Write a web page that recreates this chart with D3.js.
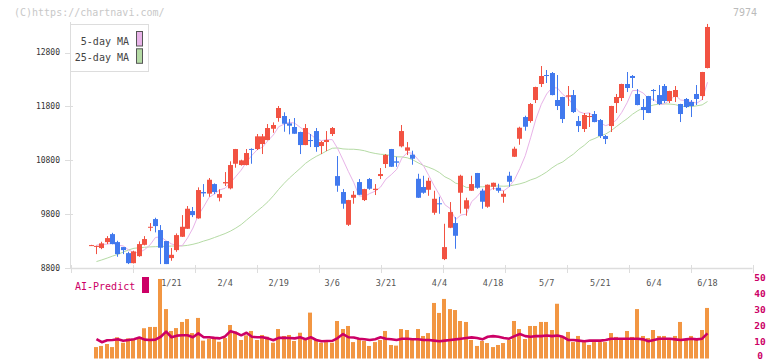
<!DOCTYPE html>
<html><head><meta charset="utf-8">
<script src="https://cdn.jsdelivr.net/npm/d3@7"></script>
<style>html,body{margin:0;padding:0;background:#fff;}svg{display:block;}</style>
</head><body>
<svg id="c" width="772" height="361"></svg>
<script>
// ---- data ----
const opens = [9215,9200,9170,9280,9429,9281,9188,9076,8890,9020,
 9230,9550,9708,9504,9300,8984,9132,9380,9528,9857,
 9721,10210,10180,10358,10104,10370,10278,10735,10711,10711,
 11010,11008,11101,11175,11385,11584,11621,11485,11417,11324,
 11082,11175,11342,11064,11138,11287,10506,10210,9602,10104,
 10395,10061,10451,10247,10507,10730,11008,10780,11058,10977,
 10903,10456,10303,10252,9825,10001,8965,9547,9634,10197,
 9900,10234,10563,10234,9937,10308,10290,10122,10512,10865,
 11199,11602,11528,11918,12215,12382,12419,11918,11974,11980,
 12010,11528,11380,11602,11658,11546,11249,11435,11862,11955,
 12215,12364,12030,11788,11992,12104,12010,12178,11900,11974,
 11844,11937,11881,12030,11992,12512];
const highs = [9230,9215,9287,9392,9453,9305,9190,9101,9120,9294,
 9392,9634,9733,9597,9300,9170,9442,9782,9950,9932,
 10297,10358,10470,10370,10260,10581,10780,11010,10810,11008,
 11021,11287,11287,11472,11503,11807,11690,11565,11584,11330,
 11472,11287,11398,11157,11342,11417,10878,10265,10065,10228,
 10451,10270,10470,10358,10655,10915,11010,10865,11454,11138,
 10977,10549,10512,10475,10234,10122,9621,10024,9745,10531,
 10104,10512,10565,10271,10350,10385,10364,10234,10586,11051,
 11422,11626,11862,12165,12549,12475,12438,12382,11978,12178,
 12104,11621,11677,11677,11714,11565,11268,11810,12030,12220,
 12438,12382,12122,11937,11995,12122,12196,12215,12090,12178,
 11848,11955,11918,12196,12440,13330];
const lows = [9210,9058,9150,9244,9240,9008,9058,8873,8885,9008,
 9220,9485,9461,8873,8873,8934,9101,9375,9525,9745,
 9715,10122,10122,10172,10037,10321,10260,10661,10700,10705,
 10735,10989,10915,11170,11310,11515,11329,11281,11290,10915,
 11080,11045,10958,10915,10970,11250,10215,9900,9580,9993,
 10155,10043,10253,10154,10451,10655,10675,10679,11039,10896,
 10717,10100,10178,10141,9788,9807,8947,9540,9157,9811,
 9770,10230,10271,9900,9918,10253,10197,10011,10308,10860,
 11088,11348,11497,11862,12159,12234,12005,11732,11491,11807,
 11677,11324,11324,11417,11505,11212,11101,11324,11677,11900,
 12066,12141,11820,11547,11675,11900,11825,11862,11862,11881,
 11509,11770,11602,11825,11918,12505];
const closes = [9225,9210,9257,9355,9244,9058,9132,8890,9107,9244,
 9337,9565,9578,9176,8873,9045,9411,9565,9900,9782,
 10247,10185,10438,10210,10172,10395,10711,11008,10798,10934,
 11000,11244,11244,11398,11454,11770,11478,11441,11292,11082,
 11398,11157,11045,11138,11175,11398,10327,9993,10061,10159,
 10159,10265,10271,10271,10544,10897,10679,10754,11342,11039,
 10828,10104,10197,10419,10085,9983,9188,9838,9398,10512,
 10057,10358,10290,10030,10346,10382,10234,10178,10401,11014,
 11404,11422,11844,12159,12364,12364,12010,11807,11565,12005,
 11695,11435,11640,11621,11509,11249,11194,11807,11974,12215,
 12141,12327,11825,11732,11677,12085,11844,11900,12085,12104,
 11658,11788,11807,11937,12438,13274];
// 25-day MA values for the first days (window reaches before the chart)
const ma25Lead = [null,8919,8950,8984,9021,9054,9095,9136,9166,9175,
 9184,9192,9196,9199,9203,9207,9209,9210,9220,9240,
 9266,9300,9329,9365,9402,9439,9485,9541,9606,9690,
 9773,9857,9940,10030,10140,10260,10370,10470];
const ma5Lead = [null,9225,9235,9244];
const volumes = [0,7.1,7.8,9,7.1,13.2,9.8,12.5,11.5,12.7,
 18.8,19.6,19.6,49.4,30.7,17.1,18.9,22.7,24.5,15.8,
 25.2,11.1,12.3,12.1,10.4,12.7,20.8,16.7,11.5,14.4,
 17.1,11.5,14.6,13.5,9.8,18.3,14,14.6,10.9,16,
 11.5,28.5,11.5,9.8,10.2,9.8,23.3,18.3,20.2,10.2,
 12.3,10.9,7.8,10.2,11.5,17.1,8.4,8,18.3,17.7,
 11.9,18.3,14,15.8,34.5,28.3,37,30.7,30.1,23.3,
 22.7,11.5,7.8,10.9,9.6,7.1,8.4,9.6,11.5,23.3,
 18.3,12.1,20.2,20.2,22.7,22.7,17.7,34,13.4,16.5,
 10.2,14,10.2,8.4,10.2,10.2,10.2,15.8,13.4,12.1,
 17.1,13.4,30.7,14,12.7,17.7,14,14,11.5,14,
 22.7,11.5,14,12.1,17.7,31.4];
const aiPredict = [null,12.1,10.1,11.3,11.5,12,11,11.5,12,13,
 11.7,11.5,11.7,13.5,16.7,13.2,14.2,14.4,14.4,13.2,
 15.6,13.2,13.2,12.8,12.5,13.7,17,16,14.4,16,
 13.5,13.2,13.2,12.5,11.3,12.8,12.8,12.7,12.5,13.2,
 12,13.2,11.5,10.7,10.9,11,12.7,15.2,13.2,13,
 12.3,12,11.5,12,13.2,12.3,12,11.5,12.3,12.3,
 12,12,11.5,11.5,11.1,10.7,11.1,11.5,11.9,12.3,
 12.7,13.1,12.7,11.9,13.5,13.9,13.5,12.7,12.3,13.9,
 15.2,13.9,13.5,13.9,13.9,14.3,13.9,14.3,13.5,11.5,
 11.5,11.1,10.7,11.1,11.1,11.1,11.5,12.3,12.3,12.3,
 12.3,12.3,12.3,11.9,10.7,11.5,12.3,12.3,12.3,11.9,
 11.5,11.9,12.3,11.9,12.3,15.6];
const dateLabels = ["1/21","2/4","2/19","3/6","3/21","4/4","4/18","5/7","5/21","6/4","6/18"];
const dateLabelIdx = [15,25,35,45,55,65,75,85,95,105,115];
const priceTicks = [8800,9800,10800,11800,12800];
const volTicks = [0,10,20,30,40,50];
const legendNames = ["5-day MA","25-day MA"];

// ---- derived series ----
const n = closes.length;
const mean = a => a.reduce((s,v)=>s+v,0)/a.length;
const ma5 = closes.map((c,i)=> i<4 ? ma5Lead[i] : mean(closes.slice(i-4,i+1)));
const ma25 = closes.map((c,i)=> i<ma25Lead.length ? ma25Lead[i] : mean(closes.slice(i-24,i+1)));

// ---- drawing ----
const FONT = "'DejaVu Sans Mono', monospace";
const svg = d3.select("#c");
const x = d3.scaleLinear().domain([0,115]).range([90.6,707]);
const y = d3.scaleLinear().domain([8800,12800]).range([268,52.5]);
const vy = d3.scaleLinear().domain([0,50]).range([358.5,278]);
const xt = d3.scaleLinear().domain([0,11]).range([70.5,752.5]);

const RED = "#f25242", BLUE = "#4179ee";

// watermark
svg.append("text").attr("x",14).attr("y",12).attr("dominant-baseline","central")
  .attr("font-family",FONT).attr("font-size",10).attr("fill","#c8c8c8").text("(C)https://chartnavi.com/");
svg.append("text").attr("x",757).attr("y",12).attr("text-anchor","end").attr("dominant-baseline","central")
  .attr("font-family",FONT).attr("font-size",10).attr("fill","#bbbbbb").text("7974");

// axes
svg.append("line").attr("x1",70.5).attr("x2",70.5).attr("y1",22).attr("y2",268.5).attr("stroke","#dddddd");
svg.append("line").attr("x1",70.5).attr("x2",752.5).attr("y1",268.5).attr("y2",268.5).attr("stroke","#dddddd").attr("stroke-width",1.5);
svg.selectAll(".ytick").data(priceTicks).enter().append("line")
  .attr("x1",65).attr("x2",73).attr("y1",d=>Math.round(y(d))+0.5).attr("y2",d=>Math.round(y(d))+0.5).attr("stroke","#dddddd");
svg.selectAll(".ylab").data(priceTicks).enter().append("text")
  .attr("x",60).attr("y",d=>y(d)).attr("text-anchor","end").attr("dominant-baseline","central")
  .attr("font-family",FONT).attr("font-size",8).attr("fill","#333").text(d=>d);
svg.selectAll(".xtick").data(d3.range(12)).enter().append("line")
  .attr("x1",d=>Math.round(xt(d))+0.5).attr("x2",d=>Math.round(xt(d))+0.5).attr("y1",265).attr("y2",273)
  .attr("stroke","#dddddd");
svg.selectAll(".xlab").data(dateLabelIdx).enter().append("text")
  .attr("x",d=>x(d)+0.5).attr("y",282.5).attr("text-anchor","middle").attr("dominant-baseline","central")
  .attr("font-family",FONT).attr("font-size",8.5).attr("fill","#555").text((d,i)=>dateLabels[i]);

// MA lines
const lineGen = d3.line().defined(d=>d[1]!=null).x(d=>x(d[0])+0.5).y(d=>y(d[1]));
svg.append("path").attr("d",lineGen(ma25.map((v,i)=>[i,v]))).attr("fill","none").attr("stroke","#b5dba5").attr("stroke-width",1);
svg.append("path").attr("d",lineGen(ma5.map((v,i)=>[i,v]))).attr("fill","none").attr("stroke","#e8b3e8").attr("stroke-width",1);

// candles
const cg = svg.append("g");
d3.range(n).forEach(i=>{
  const o=opens[i], c=closes[i], h=highs[i], l=lows[i];
  const col = c>=o ? RED : BLUE;
  const left = Math.round(x(i)-2);
  cg.append("line").attr("x1",left+2.5).attr("x2",left+2.5).attr("y1",y(h)).attr("y2",y(l))
    .attr("stroke",col).attr("stroke-width",1);
  const top = y(Math.max(o,c)), bot = y(Math.min(o,c));
  cg.append("rect").attr("x",left).attr("width",5).attr("y",top).attr("height",Math.max(1,bot-top)).attr("fill",col);
});

// legend
svg.append("rect").attr("x",70.5).attr("y",24.5).attr("width",78).attr("height",47)
  .attr("fill","#fff").attr("stroke","#dddddd");
const legCols = ["#e8b3e8","#b5dba5"];
legendNames.forEach((nm,i)=>{
  svg.append("text").attr("x",129).attr("y",41+i*16).attr("text-anchor","end").attr("dominant-baseline","central")
    .attr("font-family",FONT).attr("font-size",10).attr("fill","#444").text(nm);
  svg.append("rect").attr("x",136.5).attr("y",31.5+i*17.3).attr("width",6).attr("height",14.5)
    .attr("fill",legCols[i]).attr("stroke","#555");
});

// volume panel
const vg = svg.append("g");
volumes.forEach((v,i)=>{
  if(!v) return;
  vg.append("rect").attr("x",Math.round(x(i)-2)).attr("width",4).attr("y",vy(v)).attr("height",vy(0)-vy(v)).attr("fill","#f29642");
});
const aiLine = d3.line().defined(d=>d[1]!=null).x(d=>x(d[0])+0.5).y(d=>vy(d[1]));
svg.append("path").attr("d",aiLine(aiPredict.map((v,i)=>[i,v]))).attr("fill","none")
  .attr("stroke","#cc0066").attr("stroke-width",2.6).attr("stroke-linejoin","round");

svg.append("text").attr("x",75).attr("y",286).attr("dominant-baseline","central")
  .attr("font-family",FONT).attr("font-size",10).attr("fill","#cc0066").text("AI-Predict");
svg.append("rect").attr("x",142).attr("y",277).attr("width",7).attr("height",16).attr("fill","#cc0066");

svg.selectAll(".vlab").data(volTicks).enter().append("text")
  .attr("x",760).attr("y",d=>Math.min(vy(d)-1,355.5)).attr("text-anchor","middle").attr("dominant-baseline","central")
  .attr("font-family",FONT).attr("font-size",9.5).attr("font-weight","bold").attr("fill","#cc0066").text(d=>d);
</script>
</body></html>
